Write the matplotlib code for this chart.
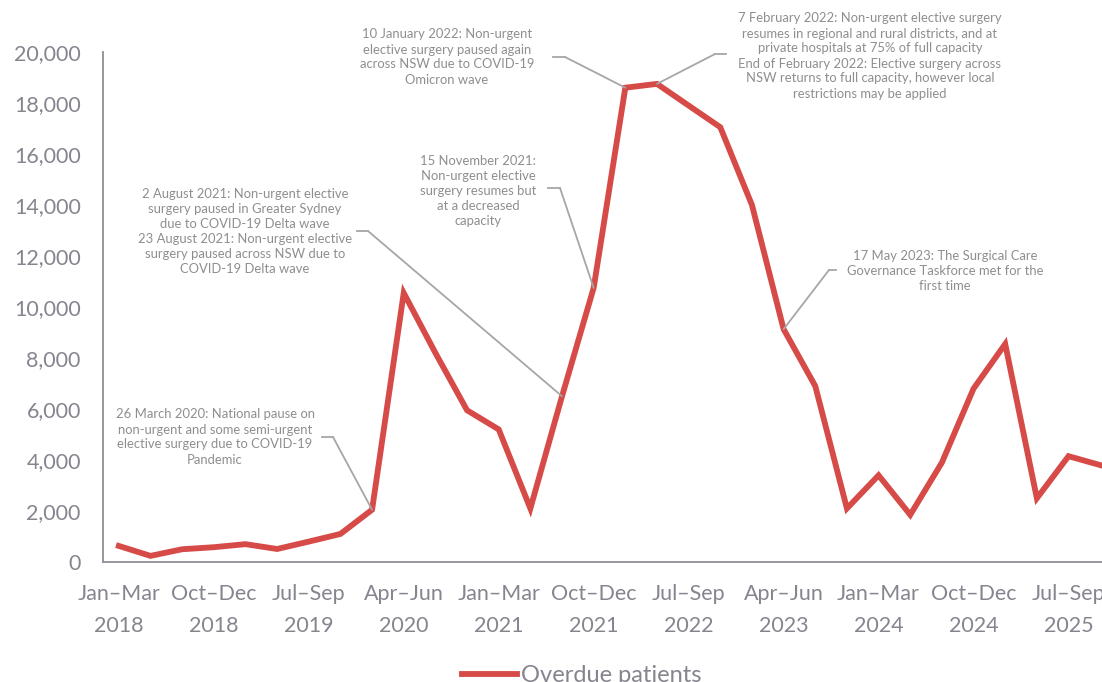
import matplotlib
matplotlib.use('Agg')
import matplotlib.pyplot as plt
from matplotlib.lines import Line2D

# quarterly overdue patients, Jan-Mar 2018 .. Oct-Dec 2025
quarters = []
for yr in range(2018, 2026):
    for q in ['Jan–Mar', 'Apr–Jun', 'Jul–Sep', 'Oct–Dec']:
        quarters.append(f'{q}\n{yr}')

overdue = [630, 240, 500, 580, 700, 510, 800, 1100,
           2050, 10550, 8200, 5950, 5200, 2100, 6500, 10750,
           18600, 18750, 17900, 17050, 14000, 9130, 6900, 2100,
           3400, 1850, 3900, 6800, 8550, 2500, 4150, 3800]

# annotation text, index of the quarter it points to
notes = [
    ('26 March 2020: National pause on\nnon-urgent and some semi-urgent\nelective surgery due to COVID-19\nPandemic', 8),
    ('2 August 2021: Non-urgent elective\nsurgery paused in Greater Sydney\ndue to COVID-19 Delta wave\n23 August 2021: Non-urgent elective\nsurgery paused across NSW due to\nCOVID-19 Delta wave', 14),
    ('15 November 2021:\nNon-urgent elective\nsurgery resumes but\nat a decreased\ncapacity', 15),
    ('10 January 2022: Non-urgent\nelective surgery paused again\nacross NSW due to COVID-19\nOmicron wave', 16),
    ('7 February 2022: Non-urgent elective surgery\nresumes in regional and rural districts, and at\nprivate hospitals at 75% of full capacity\nEnd of February 2022: Elective surgery across\nNSW returns to full capacity, however local\nrestrictions may be applied', 17),
    ('17 May 2023: The Surgical Care\nGovernance Taskforce met for the\nfirst time', 21),
]
# text centre, stub start, elbow (pixels from top-left)
note_layout = [
    ((215, 437), (322, 437), (333, 437)),
    ((245, 232), (357, 231), (368, 231)),
    ((478, 191), (548, 188), (560, 188)),
    ((447, 57), (553, 57), (565, 57)),
    ((870, 56), (726, 54), (715, 54)),
    ((945, 271), (836, 270), (829, 270)),
]

W, H = 1102, 682
red = '#D64B47'
grey = '#85858F'
note_grey = '#8E8E8E'

plt.rcParams['font.family'] = ['Lato', 'DejaVu Sans']

fig = plt.figure(figsize=(W / 100, H / 100), dpi=100)
ax = fig.add_axes([103 / W, 120 / H, 1013 / W, 510 / H])

x = list(range(len(overdue)))
line, = ax.plot(x, overdue, color=red, linewidth=4.2, solid_joinstyle='miter',
                label='Overdue patients')

ax.set_xlim(-0.5, len(overdue) - 0.5)
ax.set_ylim(0, 20000)
ax.set_yticks(range(0, 20001, 2000))
ax.set_yticklabels([f'{v:,}' for v in range(0, 20001, 2000)])
ax.set_xticks(x[::3])
ax.set_xticklabels(quarters[::3], linespacing=1.75)
ax.tick_params(length=0, labelsize=15.5, colors=grey, pad=16)
ax.tick_params(axis='y', pad=16)
for s in ['top', 'right']:
    ax.spines[s].set_visible(False)
for s in ['left', 'bottom']:
    ax.spines[s].set_color('#8E8E96')
    ax.spines[s].set_linewidth(1.3)


def fpx(px, py):
    return px / W, 1 - py / H


for (txt, idx), (tc, stub, elbow) in zip(notes, note_layout):
    fig.text(*fpx(*tc), txt, ha='center', va='center', fontsize=9.4,
             color=note_grey, linespacing=1.3)
    fig.add_artist(Line2D([stub[0] / W, elbow[0] / W],
                          [1 - stub[1] / H, 1 - elbow[1] / H],
                          color='#A6A6A6', linewidth=1.3))
    ax.annotate('', xy=(idx, overdue[idx]), xycoords='data',
                xytext=fpx(*elbow), textcoords='figure fraction',
                arrowprops=dict(arrowstyle='-', color='#A6A6A6', lw=1.3,
                                shrinkA=0, shrinkB=0))

fig.legend(handles=[line], loc='center', bbox_to_anchor=fpx(582, 676),
           frameon=False, fontsize=17, labelcolor=grey, handlelength=2.3,
           handletextpad=0.2)

fig.savefig('out.png', dpi=100)
